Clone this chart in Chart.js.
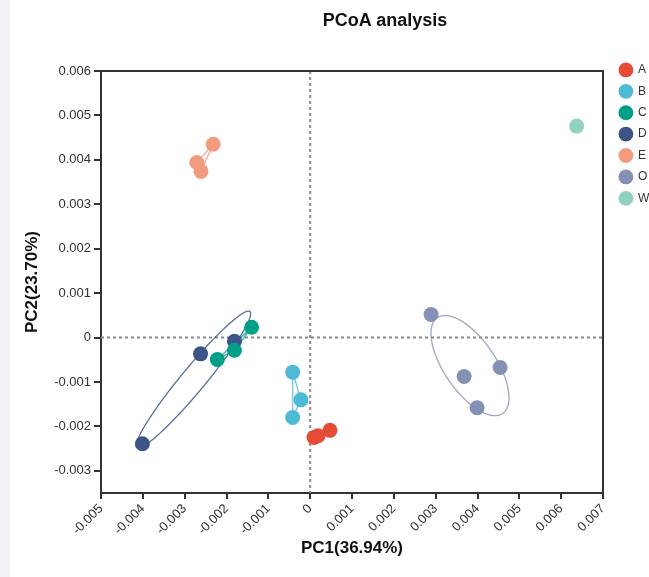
<!DOCTYPE html>
<html>
<head>
<meta charset="utf-8">
<script src="https://cdn.jsdelivr.net/npm/chart.js@4/dist/chart.umd.min.js"></script>
<style>
  html, body { margin: 0; padding: 0; background: #f1f2f5; }
  #wrap { position: absolute; left: 10px; top: 0; width: 639px; height: 577px; background: #fff; }
  #title { position: absolute; left: 375px; top: 9px; transform: translateX(-50%); font: bold 18px "Liberation Sans", Arial, sans-serif; line-height: 22px; color: #111; white-space: nowrap; }
  canvas { position: absolute; left: 0; top: 0; }
</style>
</head>
<body>
<div id="wrap">
  <canvas id="c" width="639" height="577"></canvas>
  <div id="title">PCoA analysis</div>
</div>
<script>
// ---- data (PC1, PC2) ----
const groupNames = ['A', 'B', 'C', 'D', 'E', 'O', 'W'];
const groupColors = ['#E64B35', '#4DBBD5', '#00A087', '#3C5488', '#F39B7F', '#8491B4', '#91D1C2'];
const groupA = [[0.000091, -0.00225], [0.000186, -0.00221], [0.000473, -0.00209]];
const groupB = [[-0.000418, -0.00078], [-0.00022, -0.0014], [-0.000418, -0.0018]];
const groupC = [[-0.0014, 0.000232], [-0.00181, -0.000286], [-0.00222, -0.000495]];
const groupD = [[-0.00181, -0.000083], [-0.00262, -0.000367], [-0.00401, -0.00239]];
const groupE = [[-0.00232, 0.00435], [-0.00271, 0.00394], [-0.00261, 0.00374]];
const groupO = [[0.00289, 0.000518], [0.00368, -0.000878], [0.00454, -0.000676], [0.00399, -0.00158]];
const groupW = [[0.00637, 0.00476]];
const groups = [groupA, groupB, groupC, groupD, groupE, groupO, groupW];
// groups outlined by connecting lines (index into groups)
const hullGroups = [0, 1, 2, 4];
// confidence ellipses: centre, end of major semi-axis, end of minor semi-axis (data units)
const ellipseD = { center: [-0.00279, -0.000946], major: [-0.00144, 0.000586], minor: [-0.00257, -0.00112] };
const ellipseO = { center: [0.00382, -0.000631], major: [0.0046, -0.00171], minor: [0.00433, -0.000304] };
const ellipses = [[ellipseD, 3], [ellipseO, 5]];
// axes
const xTicks = [-0.005, -0.004, -0.003, -0.002, -0.001, 0, 0.001, 0.002, 0.003, 0.004, 0.005, 0.006, 0.007];
const xTickLabels = ['-0.005', '-0.004', '-0.003', '-0.002', '-0.001', '0', '0.001', '0.002', '0.003', '0.004', '0.005', '0.006', '0.007'];
const yTicks = [-0.003, -0.002, -0.001, 0, 0.001, 0.002, 0.003, 0.004, 0.005, 0.006];
const yTickLabels = ['-0.003', '-0.002', '-0.001', '0', '0.001', '0.002', '0.003', '0.004', '0.005', '0.006'];
const xRange = [-0.005, 0.007];
const yRange = [-0.0035, 0.006];
const xTitle = 'PC1(36.94%)';
const yTitle = 'PC2(23.70%)';

const FONT = '"Liberation Sans", Arial, sans-serif';

function hexA(hex, a) {
  const n = parseInt(hex.slice(1), 16);
  return `rgba(${n >> 16 & 255},${n >> 8 & 255},${n & 255},${a})`;
}

const datasets = groups.map((g, i) => ({
  label: groupNames[i],
  data: g.map(p => ({ x: p[0], y: p[1] })),
  backgroundColor: groupColors[i],
  borderColor: groupColors[i],
  borderWidth: 0,
  pointRadius: 7.5,
  pointHoverRadius: 7.5,
  showLine: false,
  order: 0
}));
hullGroups.forEach(i => {
  const pts = groups[i].map(p => ({ x: p[0], y: p[1] }));
  pts.push(pts[0]);
  datasets.push({
    label: '_hull' + groupNames[i],
    data: pts,
    showLine: true,
    borderColor: hexA(groupColors[i], 0.75),
    borderWidth: 1.5,
    pointRadius: 0,
    pointHoverRadius: 0,
    backgroundColor: 'transparent',
    fill: false,
    order: 1
  });
});

const decor = {
  id: 'decor',
  afterLayout(chart) {
    // nudge the legend block beside the frame, as in the reference
    const lg = chart.legend;
    if (lg) { lg.left += 7.5; lg.right += 7.5; lg.top -= 16.5; lg.bottom -= 16.5; }
  },
  beforeDatasetsDraw(chart) {
    const { ctx, chartArea: a, scales: { x, y } } = chart;
    ctx.save();
    // zero reference lines
    ctx.setLineDash([3, 3]);
    ctx.strokeStyle = '#8a8a8a';
    ctx.lineWidth = 2;
    const x0 = x.getPixelForValue(0), y0 = y.getPixelForValue(0);
    ctx.beginPath();
    ctx.moveTo(x0, a.top); ctx.lineTo(x0, a.bottom);
    ctx.moveTo(a.left, y0); ctx.lineTo(a.right, y0);
    ctx.stroke();
    ctx.setLineDash([]);
    // ellipses
    ellipses.forEach(([e, gi]) => {
      const cx = x.getPixelForValue(e.center[0]), cy = y.getPixelForValue(e.center[1]);
      const ux = x.getPixelForValue(e.major[0]) - cx, uy = y.getPixelForValue(e.major[1]) - cy;
      const vx = x.getPixelForValue(e.minor[0]) - cx, vy = y.getPixelForValue(e.minor[1]) - cy;
      ctx.beginPath();
      for (let k = 0; k <= 180; k++) {
        const t = k / 180 * Math.PI * 2;
        const px = cx + ux * Math.cos(t) + vx * Math.sin(t);
        const py = cy + uy * Math.cos(t) + vy * Math.sin(t);
        if (k === 0) ctx.moveTo(px, py); else ctx.lineTo(px, py);
      }
      ctx.closePath();
      ctx.strokeStyle = gi === 3 ? 'rgba(60,84,136,0.85)' : 'rgba(132,145,180,0.8)';
      ctx.lineWidth = 1.3;
      ctx.stroke();
    });
    ctx.restore();
  },
  afterDraw(chart) {
    const { ctx, chartArea: a } = chart;
    ctx.save();
    ctx.strokeStyle = '#333';
    ctx.lineWidth = 2;
    ctx.beginPath();
    ctx.moveTo(a.left, a.top); ctx.lineTo(a.right, a.top); ctx.lineTo(a.right, a.bottom);
    ctx.stroke();
    ctx.restore();
  }
};

new Chart(document.getElementById('c'), {
  type: 'scatter',
  data: { datasets },
  plugins: [decor],
  options: {
    responsive: false,
    animation: false,
    devicePixelRatio: 1,
    layout: { padding: { top: 71, right: 0, bottom: 0, left: 0 } },
    plugins: {
      tooltip: { enabled: false },
      legend: {
        position: 'right',
        align: 'start',
        maxWidth: 46,
        labels: {
          filter: item => !item.text.startsWith('_hull'),
          usePointStyle: true,
          pointStyle: 'circle',
          boxHeight: 10.5,
          padding: 9.4,
          color: '#333',
          font: { family: FONT, size: 12 }
        }
      }
    },
    scales: {
      x: {
        type: 'linear',
        min: xRange[0], max: xRange[1],
        afterBuildTicks: s => { s.ticks = xTicks.map(v => ({ value: v })); },
        afterFit: s => { s.height = 84; },
        ticks: {
          autoSkip: false, maxRotation: 45, minRotation: 45,
          color: '#333', padding: 2,
          font: { family: FONT, size: 13 },
          callback: (v, i) => xTickLabels[i]
        },
        grid: { display: true, drawOnChartArea: false, drawTicks: true, tickLength: 6, tickColor: '#333', lineWidth: 2 },
        border: { display: true, color: '#333', width: 2 },
        title: { display: true, text: xTitle, color: '#111', font: { family: FONT, size: 17, weight: 'bold' }, padding: { top: 0, bottom: 18 } }
      },
      y: {
        type: 'linear',
        min: yRange[0], max: yRange[1],
        afterBuildTicks: s => { s.ticks = yTicks.map(v => ({ value: v })); },
        afterFit: s => { s.width = 91; },
        ticks: {
          color: '#333', padding: 3,
          font: { family: FONT, size: 13 },
          callback: (v, i) => yTickLabels[i]
        },
        grid: { display: true, drawOnChartArea: false, drawTicks: true, tickLength: 7, tickColor: '#333', lineWidth: 2 },
        border: { display: true, color: '#333', width: 2 },
        title: { display: true, text: yTitle, color: '#111', font: { family: FONT, size: 17, weight: 'bold' }, padding: { top: 12, bottom: 0 } }
      }
    }
  }
});
</script>
</body>
</html>
